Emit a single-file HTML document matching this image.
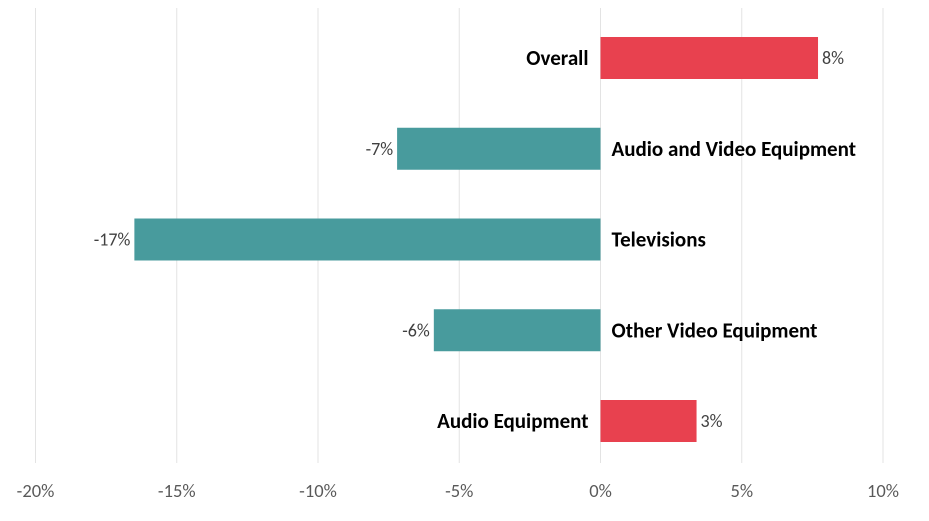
<!DOCTYPE html>
<html><head><meta charset="utf-8"><style>
body{margin:0;background:#fff;font-family:"Liberation Sans",sans-serif}
svg text{font-family:"Carlito","Calibri","Liberation Sans",sans-serif}
</style></head><body>
<svg id="c" width="929" height="516" xmlns="http://www.w3.org/2000/svg"></svg>
<script>
const categories=["Overall","Audio and Video Equipment","Televisions","Other Video Equipment","Audio Equipment"];
const values=[7.7,-7.2,-16.5,-5.9,3.4];
const valueLabels=["8%","-7%","-17%","-6%","3%"];
const ticks=[-20,-15,-10,-5,0,5,10];
const tickLabels=["-20%","-15%","-10%","-5%","0%","5%","10%"];
const svg=document.getElementById('c');
const NS="http://www.w3.org/2000/svg";
const x=v=>600.5+v*28.25;
const y=i=>58+i*90.75;
const barH=42;
function mk(t,a,txt){const e=document.createElementNS(NS,t);for(const k in a)e.setAttribute(k,a[k]);if(txt!=null)e.textContent=txt;svg.appendChild(e);return e;}
ticks.forEach((t,i)=>{
  const g=mk('line',{x1:x(t),x2:x(t),y1:8,y2:463,stroke:'#e3e3e3','stroke-width':1});
  
  
  const l=mk('text',{x:x(t),y:497,'text-anchor':'middle','font-size':18.5,fill:'#595959'},tickLabels[i]);
  
  
});
categories.forEach((c,i)=>{
  const v=values[i];
  const r=mk('rect',{x:Math.min(x(0),x(v)),y:y(i)-barH/2,width:Math.abs(x(v)-x(0)),height:barH,fill:v>=0?'#E8414F':'#489B9D'});
  
  
  const vl=mk('text',{x:v>=0?x(v)+4:x(v)-4,y:y(i)+6,'text-anchor':v>=0?'start':'end','font-size':18,fill:'#404040'},valueLabels[i]);
  
  
  const cl=mk('text',{x:v>=0?x(0)-12:x(0)+11,y:y(i)+7,'text-anchor':v>=0?'end':'start','font-size':21,'font-weight':'bold',fill:'#000'},c);
  
  
});
</script>
</body></html>
